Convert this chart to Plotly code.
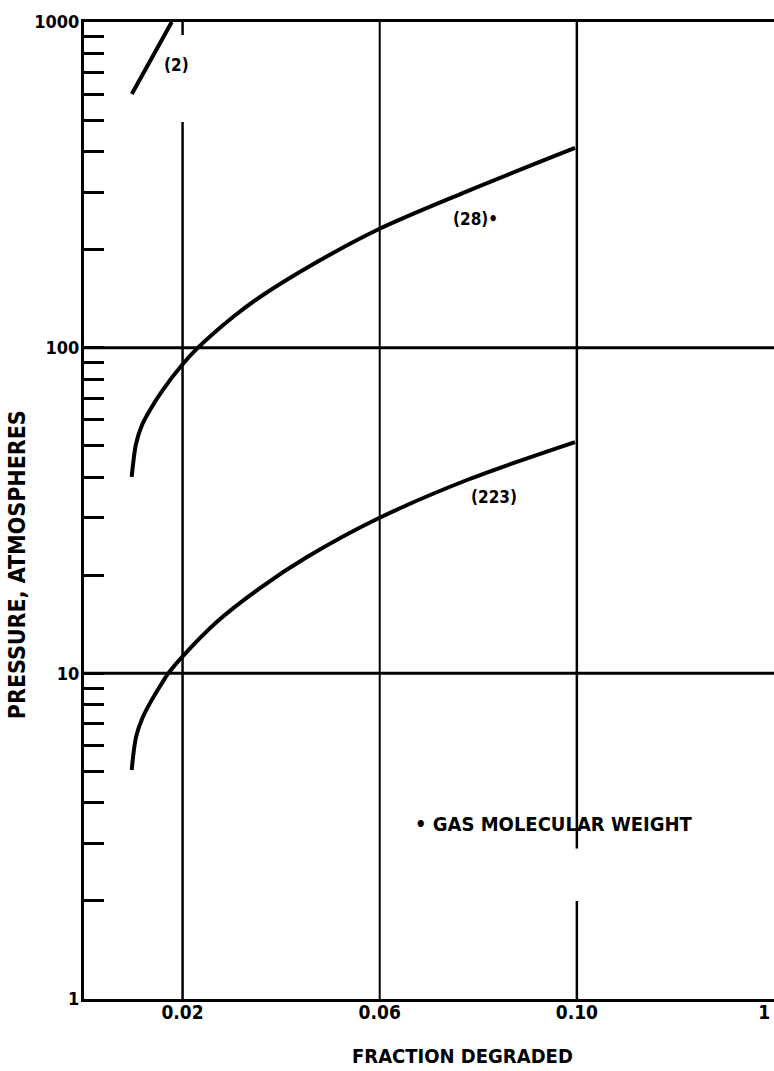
import numpy as np
import plotly.graph_objects as go

# Curves: pressure (atm) vs fraction degraded, by gas molecular weight
FRACTION_2 = [0.0097, 0.0178]
PRESSURE_2 = [601, 1000]

FRACTION_28 = [0.00968, 0.01055, 0.01177, 0.01339, 0.01583, 0.01988, 0.02313,
               0.03023, 0.03571, 0.04525, 0.05945, 0.07771, 0.09962]
PRESSURE_28 = [40.1, 50.6, 57.9, 64.4, 73.6, 88.5, 100.0,
               124.2, 143.1, 176.0, 229.8, 302.0, 410.4]

FRACTION_223 = [0.00968, 0.01055, 0.01177, 0.01339, 0.01583, 0.01710, 0.01988,
                0.02698, 0.03571, 0.04525, 0.05945, 0.07771, 0.09962]
PRESSURE_223 = [5.05, 6.37, 7.24, 8.10, 9.34, 10.0, 11.22,
                14.4, 18.27, 22.75, 29.77, 39.23, 51.3]

# Axis ticks
X_TICK_VALS = [0.02, 0.06, 0.10, 0.138]
X_TICK_TEXT = ["0.02", "0.06", "0.10", "1"]
Y_MAJOR = [1, 10, 100, 1000]
Y_MINOR = [m * 10 ** d for d in range(3) for m in range(2, 10)]

# Ruled lines: vertical segments (x, y_from, y_to) and horizontal levels
V_SEGMENTS = [(0.02, 1, 493), (0.02, 912, 1000), (0.06, 1, 1000),
              (0.10, 1, 2.0), (0.10, 2.9, 1000)]
V_WIDTHS = [2.5, 2.5, 2, 2.5, 2.5]
H_LEVELS = [10, 100]

FONT = "Liberation Sans Narrow, DejaVu Sans Condensed, Arial Narrow, sans-serif"
INK = "#000000"

fig = go.Figure()

for (xv, ya, yb), w in zip(V_SEGMENTS, V_WIDTHS):
    fig.add_trace(go.Scatter(x=[xv, xv], y=[ya, yb], mode="lines",
                             line=dict(color=INK, width=w), hoverinfo="skip"))
for lv in H_LEVELS:
    fig.add_trace(go.Scatter(x=[0, 0.2], y=[lv, lv], mode="lines",
                             line=dict(color=INK, width=3), hoverinfo="skip"))

for xs, ys in [(FRACTION_2, PRESSURE_2), (FRACTION_28, PRESSURE_28),
               (FRACTION_223, PRESSURE_223)]:
    fig.add_trace(go.Scatter(x=xs, y=ys, mode="lines",
                             line=dict(color=INK, width=4, shape="spline", smoothing=0.9),
                             hoverinfo="skip"))

y_tickvals = Y_MAJOR + Y_MINOR
y_ticktext = [str(v) for v in Y_MAJOR] + [""] * len(Y_MINOR)

fig.update_xaxes(
    range=[0, 0.14], showgrid=False, zeroline=False,
    showline=True, linecolor=INK, linewidth=3, mirror=True,
    tickmode="array", tickvals=X_TICK_VALS, ticktext=X_TICK_TEXT, ticks="",
    tickfont=dict(family=FONT, size=19, color=INK, weight="bold"),
    ticklabelstandoff=-6,
)
fig.update_yaxes(
    type="log", range=[0, 3], showgrid=False, zeroline=False,
    showline=True, linecolor=INK, linewidth=3,
    tickmode="array", tickvals=y_tickvals, ticktext=y_ticktext,
    ticks="inside", ticklen=20, tickwidth=3, tickcolor=INK,
    tickfont=dict(family=FONT, size=18, color=INK, weight="bold"),
    ticklabelstandoff=-2,
)

label_font = dict(family=FONT, size=17, color=INK, weight="bold")
fig.add_annotation(x=0.0187, y=np.log10(738), text="(2)", showarrow=False, font=label_font)
fig.add_annotation(x=0.0794, y=np.log10(248), text="(28)•", showarrow=False, font=label_font)
fig.add_annotation(x=0.0832, y=np.log10(34.8), text="(223)", showarrow=False, font=label_font)
fig.add_annotation(x=0.0954, y=np.log10(3.45), text="• GAS MOLECULAR WEIGHT", showarrow=False,
                   font=dict(family=FONT, size=20, color=INK, weight="bold"))

fig.add_annotation(xref="paper", yref="paper", x=0.548, y=-0.0583,
                   xanchor="center", yanchor="middle",
                   text="FRACTION DEGRADED", showarrow=False,
                   font=dict(family=FONT, size=20, color=INK, weight="bold"))
fig.add_annotation(xref="paper", yref="paper", x=-0.0971, y=0.444,
                   xanchor="center", yanchor="middle", textangle=-90,
                   text="PRESSURE, ATMOSPHERES", showarrow=False,
                   font=dict(family=FONT, size=23, color=INK, weight="bold"))

fig.update_layout(
    width=774, height=1071,
    margin=dict(l=84, r=0, t=22, b=72),
    paper_bgcolor="white", plot_bgcolor="white",
    showlegend=False, hovermode=False,
)

fig.write_html("out.html")
